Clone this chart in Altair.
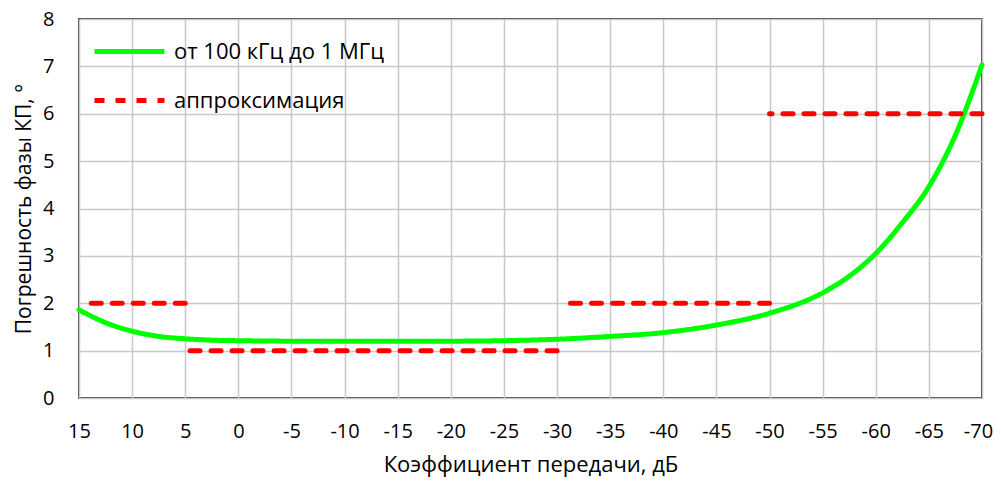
import altair as alt
import pandas as pd

# green curve: transmission coefficient (dB) vs phase error (deg)
curve_x = [15, 12.5, 10, 7.5, 5, 2.5, 0, -5, -10, -15, -20, -25, -30, -35, -40,
           -45, -50, -55, -57.5, -60, -62.5, -65, -67.5, -70]
curve_y = [1.86, 1.59, 1.41, 1.30, 1.25, 1.22, 1.21, 1.20, 1.20, 1.20, 1.20, 1.21,
           1.24, 1.30, 1.38, 1.54, 1.79, 2.22, 2.57, 3.05, 3.70, 4.46, 5.55, 7.03]

# red approximation steps
appr_seg = [1, 1, 2, 2, 3, 3, 4, 4]
appr_x = [14.3, 5, 5, -30, -30.6, -50, -50, -70]
appr_y = [2, 2, 1, 1, 2, 2, 6, 6]

s_green = "от 100 кГц до 1 МГц"
s_red = "аппроксимация"

rows = []
for xv, yv in zip(curve_x, curve_y):
    rows.append({"x": xv, "y": yv, "series": s_green, "seg": 0})
for sg, xv, yv in zip(appr_seg, appr_x, appr_y):
    rows.append({"x": xv, "y": yv, "series": s_red, "seg": sg})
df = pd.DataFrame(rows)

FONT = "Open Sans"

x_ticks = list(range(-70, 20, 5))

chart = alt.Chart(df).mark_line(strokeWidth=5, strokeCap="round", interpolate="monotone").encode(
    x=alt.X("x:Q",
            scale=alt.Scale(domain=[-70, 15], reverse=True, nice=False, zero=False),
            axis=alt.Axis(values=x_ticks, title="Коэффициент передачи, дБ",
                          labelExpr="toString(datum.value)",
                          labelOffset=alt.expr("datum.value == -70 ? -4 : 0"),
                          labelFlush=False, labelOverlap=False, labelPadding=23,
                          titlePadding=13)),
    y=alt.Y("y:Q",
            scale=alt.Scale(domain=[0, 8], nice=False),
            axis=alt.Axis(values=list(range(0, 9)), title="Погрешность фазы КП, °",
                          labelPadding=25, titlePadding=8, titleFontSize=21)),
    color=alt.Color("series:N",
                    scale=alt.Scale(domain=[s_green, s_red], range=["#00ff00", "#ff0000"]),
                    legend=alt.Legend(title=None, orient="none", legendX=13, legendY=-5,
                                      symbolType="stroke", symbolSize=4900,
                                      symbolStrokeWidth=5, labelFontSize=22,
                                      labelFont=FONT, labelOffset=7, rowPadding=-22,
                                      labelLimit=0, labelColor="#000000")),
    strokeDash=alt.StrokeDash("series:N",
                              scale=alt.Scale(domain=[s_green, s_red], range=[[1, 0], [10, 11]]),
                              legend=alt.Legend(title=None)),
    detail="seg:N",
    order="x:Q",
).properties(
    width=903, height=379,
    background="#ffffff",
    autosize=alt.AutoSizeParams(type="none"),
    padding={"left": 71, "top": 11, "right": 11, "bottom": 80},
).configure_view(
    stroke="#000000", strokeWidth=1.5
).configure_axis(
    grid=True, gridColor="#c8c8c8", gridWidth=1.5, domain=False,
    ticks=False, labelFont=FONT, labelFontSize=20, labelColor="#000000",
    titleFont=FONT, titleFontSize=22, titleFontWeight="normal", titleColor="#000000",
)

chart.save("out.html", embed_options={"renderer": "svg", "actions": False})
